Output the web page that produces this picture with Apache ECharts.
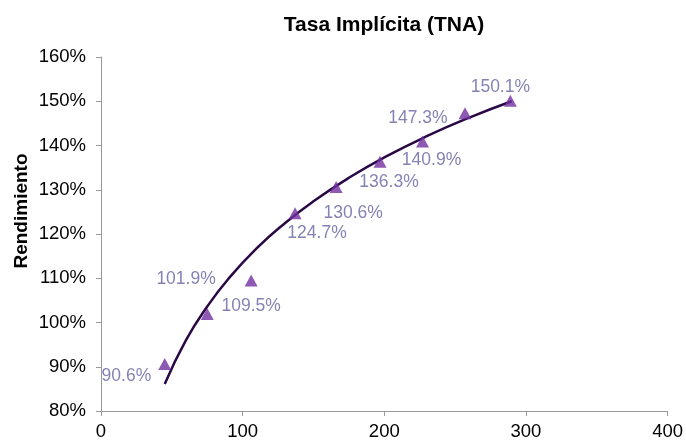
<!DOCTYPE html>
<html>
<head>
<meta charset="utf-8">
<script src="https://cdn.jsdelivr.net/npm/echarts@6/dist/echarts.min.js"></script>
<style>
html,body{margin:0;padding:0;background:#fff;}
#c{width:686px;height:443px;}
</style>
</head>
<body>
<div id="c"></div>
<script>
// Data
var days = [45, 75, 106, 137, 166, 197, 227, 257, 289];
var rates = [90.6, 101.9, 109.5, 124.7, 130.6, 136.3, 140.9, 147.3, 150.1];
// Trendline
var trendDays = [45, 60, 75, 90, 110, 130, 150, 175, 200, 230, 260, 290];
var trendRates = [86.1, 96.0, 103.6, 109.9, 116.8, 122.5, 127.4, 132.7, 137.3, 142.1, 146.3, 150.0];
var yTicks = [80, 90, 100, 110, 120, 130, 140, 150, 160];
var xTicks = [0, 100, 200, 300, 400];

// label placement (style)
var labelPlace = [
  {position: 'left', offset: [-2, 12]},
  {position: 'left', offset: [20, -35]},
  {position: 'bottom', offset: [0, 6]},
  {position: 'bottom', offset: [22, 0]},
  {position: 'bottom', offset: [17, 6]},
  {position: 'bottom', offset: [9, 0]},
  {position: 'bottom', offset: [9, -1]},
  {position: 'left', offset: [-6, 5]},
  {position: 'top', offset: [-10, 6]}
];

var pts = days.map(function (d, i) {
  return {
    value: [d, rates[i]],
    label: {position: labelPlace[i].position, offset: labelPlace[i].offset}
  };
});
var trend = trendDays.map(function (d, i) { return [d, trendRates[i]]; });

var axisColor = '#999999';
var font = 'Liberation Sans, Arial, sans-serif';

var chart = echarts.init(document.getElementById('c'));
chart.setOption({
  animation: false,
  title: {
    text: 'Tasa Implícita (TNA)',
    left: 379, top: 10, textAlign: 'center',
    textStyle: {fontFamily: font, fontSize: 21, fontWeight: 'bold', color: '#000'}
  },
  graphic: [{
    type: 'text', x: 22, y: 211, rotation: Math.PI / 2,
    style: {
      text: 'Rendimiento', fontFamily: font, fontSize: 19, fontWeight: 'bold',
      fill: '#000', textAlign: 'center', textVerticalAlign: 'middle'
    }
  }],
  grid: {left: 101, right: 15, top: 57, bottom: 32, containLabel: false},
  xAxis: {
    type: 'value', min: xTicks[0], max: xTicks[xTicks.length - 1], interval: 100,
    splitLine: {show: false},
    axisLine: {show: true, lineStyle: {color: axisColor, width: 1}},
    axisTick: {show: true, length: 5, lineStyle: {color: axisColor}},
    axisLabel: {fontFamily: font, fontSize: 18.5, color: '#000', margin: 11}
  },
  yAxis: {
    type: 'value', min: yTicks[0], max: yTicks[yTicks.length - 1], interval: 10,
    splitLine: {show: false},
    axisLine: {show: true, lineStyle: {color: axisColor, width: 1}},
    axisTick: {show: true, length: 5, lineStyle: {color: axisColor}},
    axisLabel: {fontFamily: font, fontSize: 18.5, color: '#000', margin: 15, formatter: '{value}%'}
  },
  series: [
    {
      type: 'line', data: trend, smooth: true, showSymbol: false, symbol: 'none',
      lineStyle: {color: '#2a0845', width: 2.5}, z: 2, silent: true
    },
    {
      type: 'scatter', data: pts, symbol: 'triangle', symbolSize: [13, 12],
      itemStyle: {color: '#7030a0'}, z: 3,
      label: {
        show: true, fontFamily: font, fontSize: 17.5, color: '#6464a0',
        formatter: function (p) { return p.value[1].toFixed(1) + '%'; }
      }
    }
  ]
});
</script>
</body>
</html>
